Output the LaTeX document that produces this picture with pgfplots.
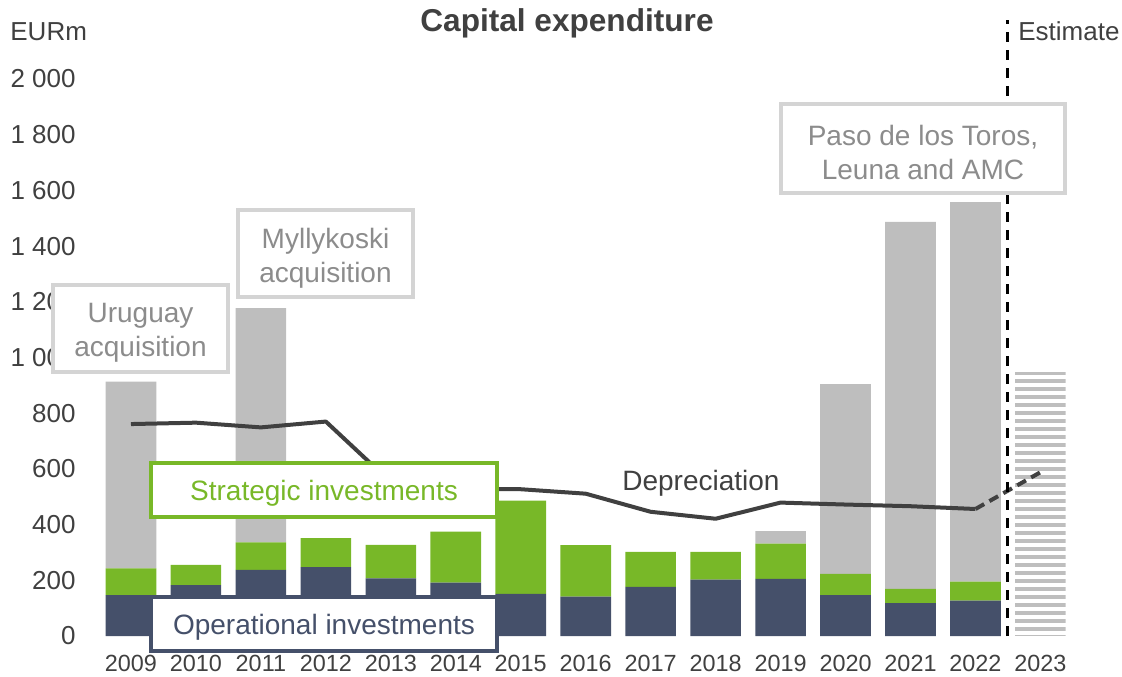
\documentclass[border=0pt]{standalone}
\usepackage{pgfplots}
\pgfplotsset{compat=1.18}
\usepackage{fontspec}
\setmainfont{Liberation Sans}
\usetikzlibrary{patterns.meta}
\definecolor{navy}{HTML}{45506A}
\definecolor{sgreen}{HTML}{78B828}
\definecolor{lgrey}{HTML}{BEBEBE}
\definecolor{dgrey}{HTML}{404040}
\definecolor{boxgrey}{HTML}{D4D4D4}
\definecolor{txtgrey}{HTML}{8C8C8C}
\begin{document}
\begin{tikzpicture}
\path[use as bounding box] (0,0) rectangle (561bp,338.5bp);
\pgfplotsset{base/.style={scale only axis, width=493.7bp, height=278.5bp,
  at={(46bp,20.5bp)}, anchor=south west, xmin=-0.6, xmax=14.6, ymin=0, ymax=2000, clip=false}}
\begin{axis}[base, ybar stacked, bar width=25.3bp,
  axis line style={draw=none}, tick style={draw=none},
  xtick={0,...,14},
  xticklabels={2009,2010,2011,2012,2013,2014,2015,2016,2017,2018,2019,2020,2021,2022,2023},
  ytick={0,200,...,2000},
  yticklabels={0,200,400,600,800,1 000,1 200,1 400,1 600,1 800,2 000},
  xticklabel style={font=\fontsize{11.7bp}{14bp}\selectfont, text=dgrey, anchor=base, inner sep=0pt, yshift=-17.7bp},
  yticklabel style={font=\fontsize{13bp}{15bp}\selectfont, text=dgrey, anchor=east, inner sep=0pt, xshift=-8bp},
]
% operational investments
\addplot[fill=navy, draw=none] coordinates {(0,147)(1,183)(2,237)(3,247)(4,207)(5,192)(6,151)(7,141)(8,176)(9,202)(10,205)(11,147)(12,118)(13,127)(14,0)};
% strategic investments
\addplot[fill=sgreen, draw=none] coordinates {(0,96)(1,72)(2,99)(3,104)(4,120)(5,183)(6,335)(7,185)(8,126)(9,100)(10,127)(11,76)(12,51)(13,68)(14,0)};
% acquisitions / major projects
\addplot[fill=lgrey, draw=none] coordinates {(0,670)(1,0)(2,841)(3,0)(4,0)(5,0)(6,0)(7,0)(8,0)(9,0)(10,45)(11,681)(12,1318)(13,1363)(14,0)};
% estimate 2023
\addplot[draw=none, pattern={Lines[angle=0,distance=4bp,line width=1.7bp]}, pattern color=lgrey] coordinates {(0,0)(1,0)(2,0)(3,0)(4,0)(5,0)(6,0)(7,0)(8,0)(9,0)(10,0)(11,0)(12,0)(13,0)(14,945)};
\end{axis}
\begin{axis}[base, hide axis]
\addplot[dgrey, line width=2bp, line join=round, mark=none] coordinates {(0,761)(1,766)(2,749)(3,770)(4,552)(5,527)(6,527)(7,511)(8,446)(9,421)(10,479)(11,472)(12,466)(13,456)};
\addplot[dgrey, line width=2bp, dash pattern=on 5bp off 3bp, mark=none] coordinates {(13,456)(14,588)};
\draw[black, line width=1.5bp, dash pattern=on 5bp off 4bp] (axis cs:13.5,0) -- (axis cs:13.5,2212);
\end{axis}
\begin{scope}[shift={(0bp,338.5bp)}, x=0.5bp, y=-0.5bp]
\node[font=\fontsize{15.8bp}{18bp}\selectfont\bfseries, text=dgrey] at (567,23) {Capital expenditure};
\node[font=\fontsize{13bp}{15bp}\selectfont, text=dgrey, anchor=west, inner sep=0pt] at (10,32) {EURm};
\node[font=\fontsize{13bp}{15bp}\selectfont, text=dgrey, anchor=west, inner sep=0pt] at (1018,31) {Estimate};
\draw[boxgrey, line width=1.7bp, fill=white] (53,285) rectangle (228,372);
\node[font=\fontsize{14bp}{17bp}\selectfont, text=txtgrey, align=center] at (140.5,333) {Uruguay\\acquisition};
\draw[boxgrey, line width=1.7bp, fill=white] (238,210) rectangle (413,297);
\node[font=\fontsize{14bp}{17bp}\selectfont, text=txtgrey, align=center] at (325.5,258) {Myllykoski\\acquisition};
\draw[boxgrey, line width=1.7bp, fill=white] (781,104) rectangle (1065,193);
\node[font=\fontsize{14bp}{17bp}\selectfont, text=txtgrey, align=center] at (923,152.5) {Paso de los Toros,\\Leuna and AMC};
\draw[sgreen, line width=1.7bp, fill=white] (151,463) rectangle (497,517);
\node[font=\fontsize{14bp}{17bp}\selectfont, text=sgreen] at (324,493) {Strategic investments};
\draw[navy, line width=1.7bp, fill=white] (151,597) rectangle (497,651);
\node[font=\fontsize{14bp}{17bp}\selectfont, text=navy] at (324,627) {Operational investments};
\node[font=\fontsize{14bp}{17bp}\selectfont, text=dgrey] at (701,483) {Depreciation};
\end{scope}
\end{tikzpicture}
\end{document}
